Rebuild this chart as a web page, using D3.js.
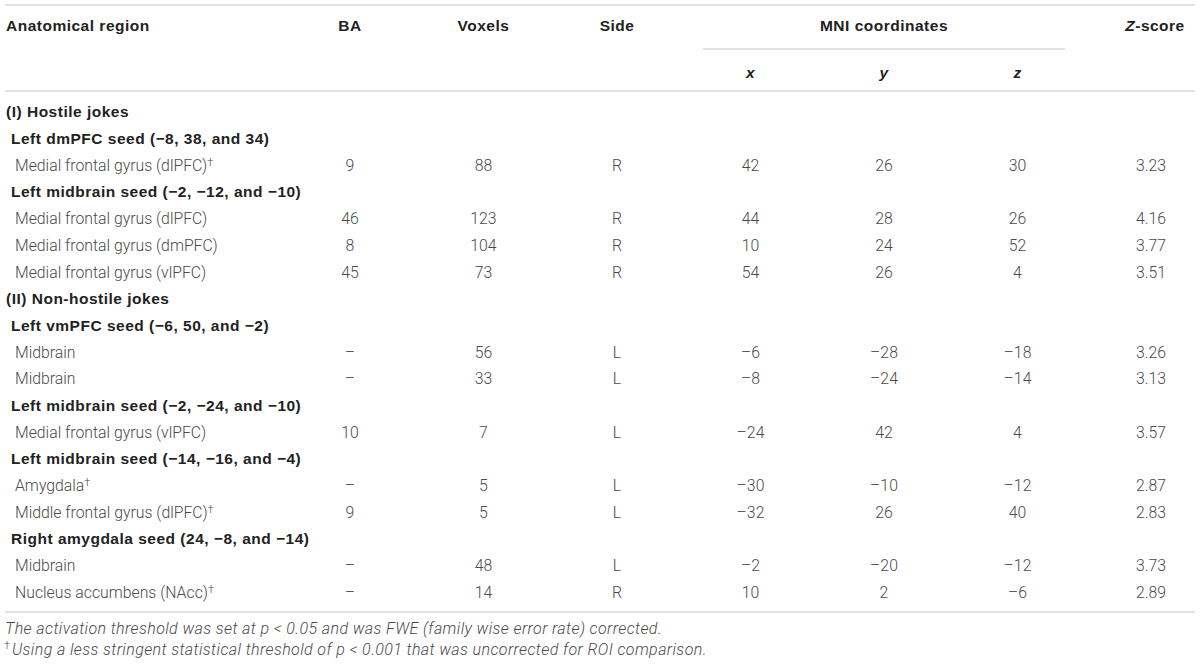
<!DOCTYPE html>
<html>
<head>
<meta charset="utf-8">
<script src="https://cdn.jsdelivr.net/npm/d3@7"></script>
<style>
  body { margin: 0; background: #fff; }
  svg text { font-family: "Liberation Sans", Arial, sans-serif; font-size: 15.5px; }
  .head { font-weight: bold; fill: #222; letter-spacing: 0.5px; }
  .body { fill: #4a4a4a; font-family: Roboto, "Liberation Sans", sans-serif; font-weight: 300; font-size: 15.8px; }
  .foot { font-size: 16px; letter-spacing: 0.4px; font-style: italic; }
  .rule { stroke: #d8d8d8; stroke-width: 1.5; }
</style>
</head>
<body>
<svg id="tbl" width="1200" height="664"></svg>
<script>
// table content
var columns = ["BA", "Voxels", "Side", "x", "y", "z", "Z"];
var rowKinds = ["group", "seed", "data", "seed", "data", "data", "data",
                "group", "seed", "data", "data", "seed", "data", "seed", "data", "data", "seed", "data", "data"];
var rowLabels = [
  "(I) Hostile jokes",
  "Left dmPFC seed (\u22128, 38, and 34)",
  "Medial frontal gyrus (dlPFC)",
  "Left midbrain seed (\u22122, \u221212, and \u221210)",
  "Medial frontal gyrus (dlPFC)",
  "Medial frontal gyrus (dmPFC)",
  "Medial frontal gyrus (vlPFC)",
  "(II) Non-hostile jokes",
  "Left vmPFC seed (\u22126, 50, and \u22122)",
  "Midbrain",
  "Midbrain",
  "Left midbrain seed (\u22122, \u221224, and \u221210)",
  "Medial frontal gyrus (vlPFC)",
  "Left midbrain seed (\u221214, \u221216, and \u22124)",
  "Amygdala",
  "Middle frontal gyrus (dlPFC)",
  "Right amygdala seed (24, \u22128, and \u221214)",
  "Midbrain",
  "Nucleus accumbens (NAcc)"
];
var daggerRows = [2, 14, 15, 18];
// values for data rows, in order
var baValues = ["9", "46", "8", "45", "\u2013", "\u2013", "10", "\u2013", "9", "\u2013", "\u2013"];
var voxelValues = ["88", "123", "104", "73", "56", "33", "7", "5", "5", "48", "14"];
var sideValues = ["R", "R", "R", "R", "L", "L", "L", "L", "L", "L", "R"];
var mniX = [42, 44, 10, 54, -6, -8, -24, -30, -32, -2, 10];
var mniY = [26, 28, 24, 26, -28, -24, 42, -10, 26, -20, 2];
var mniZ = [30, 26, 52, 4, -18, -14, 4, -12, 40, -12, -6];
var zScores = ["3.23", "4.16", "3.77", "3.51", "3.26", "3.13", "3.57", "2.87", "2.83", "3.73", "2.89"];
var footnotes = [
  "The activation threshold was set at p < 0.05 and was FWE (family wise error rate) corrected.",
  "Using a less stringent statistical threshold of p < 0.001 that was uncorrected for ROI comparison."
];

var svg = d3.select("#tbl");
var x = d3.scalePoint().domain(columns).range([350, 1151]);
var y = d3.scaleLinear().domain([0, rowLabels.length - 1]).range([112, 592]);
var fmt = function(v){ return v < 0 ? "\u2013" + Math.abs(v) : String(v); };

// rules
var rules = [
  {x1: 5, x2: 1195, y: 5},
  {x1: 703, x2: 1065, y: 49},
  {x1: 5, x2: 1195, y: 91},
  {x1: 5, x2: 1195, y: 612}
];
svg.selectAll("line.rule").data(rules).enter().append("line")
  .attr("class", "rule")
  .attr("x1", d => d.x1).attr("x2", d => d.x2)
  .attr("y1", d => d.y).attr("y2", d => d.y);

// header
svg.append("text").attr("class", "head").attr("x", 6).attr("y", 26).attr("dy", "0.35em").text("Anatomical region");
["BA", "Voxels", "Side"].forEach(function(c){
  svg.append("text").attr("class", "head").attr("x", x(c)).attr("y", 26).attr("dy", "0.35em")
    .attr("text-anchor", "middle").text(c);
});
svg.append("text").attr("class", "head").attr("x", x("y")).attr("y", 26).attr("dy", "0.35em")
  .attr("text-anchor", "middle").text("MNI coordinates");
["x", "y", "z"].forEach(function(c){
  svg.append("text").attr("class", "head").attr("x", x(c)).attr("y", 73).attr("dy", "0.35em")
    .attr("text-anchor", "middle").style("font-style", "italic").text(c);
});
var zh = svg.append("text").attr("class", "head").attr("x", x("Z") + 4).attr("y", 26).attr("dy", "0.35em")
  .attr("text-anchor", "middle");
zh.append("tspan").style("font-style", "italic").text("Z");
zh.append("tspan").text("-score");

// row labels
var labels = svg.selectAll("text.rowlabel").data(rowLabels).enter().append("text")
  .attr("class", (d, i) => "rowlabel " + (rowKinds[i] == "data" ? "body" : "head"))
  .attr("x", (d, i) => rowKinds[i] == "group" ? 6 : rowKinds[i] == "seed" ? 11 : 15)
  .attr("y", (d, i) => y(i)).attr("dy", "0.35em");
labels.append("tspan").text(d => d);
labels.filter((d, i) => daggerRows.indexOf(i) >= 0).append("tspan")
  .attr("dy", "-0.45em").style("font-size", "11px").text("\u2020");

// value cells
var dataRows = [];
rowKinds.forEach(function(k, i){ if (k == "data") dataRows.push(i); });
var cells = [];
dataRows.forEach(function(r, j){
  cells.push({c: "BA", r: r, v: baValues[j]});
  cells.push({c: "Voxels", r: r, v: voxelValues[j]});
  cells.push({c: "Side", r: r, v: sideValues[j]});
  cells.push({c: "x", r: r, v: fmt(mniX[j])});
  cells.push({c: "y", r: r, v: fmt(mniY[j])});
  cells.push({c: "z", r: r, v: fmt(mniZ[j])});
  cells.push({c: "Z", r: r, v: zScores[j]});
});
svg.selectAll("text.cell").data(cells).enter().append("text")
  .attr("class", "cell body")
  .attr("x", d => x(d.c)).attr("y", d => y(d.r)).attr("dy", "0.35em")
  .attr("text-anchor", "middle").text(d => d.v);

// footnotes
svg.selectAll("text.foot").data(footnotes).enter().append("text")
  .attr("class", "foot body")
  .attr("x", (d, i) => i == 0 ? 5 : 12).attr("y", (d, i) => 628 + i * 21).attr("dy", "0.35em")
  .text(d => d);
svg.append("text").attr("class", "body").attr("x", 4).attr("y", 645).attr("dy", "0.35em")
  .style("font-size", "11px").text("\u2020");
</script>
</body>
</html>
